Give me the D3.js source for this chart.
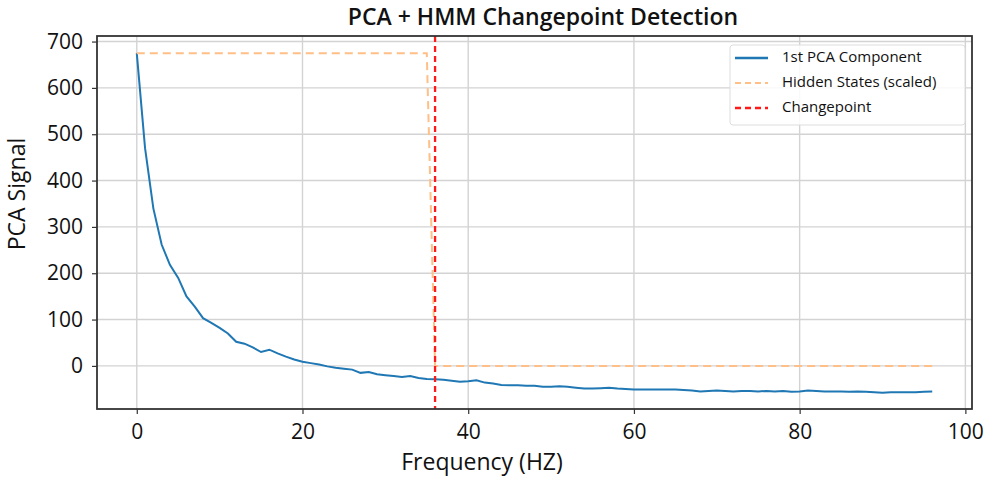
<html>
<head>
<script src="https://d3js.org/d3.v7.min.js"></script>
<title>PCA + HMM Changepoint Detection</title>
<style>
  body { margin: 0; padding: 0; background: #fff; }
  text { font-family: "Open Sans", "Noto Sans", sans-serif; fill: #111; }
</style>
</head>
<body>
<script>
// frequency bins (Hz)
var freq = d3.range(0, 97);
// 1st PCA component
var pca = [675, 470, 340, 262, 218, 190, 150, 128, 103, 93,
           82, 70, 52, 48, 40, 30, 35, 27, 20, 14,
           9, 6, 3, -1, -4, -6, -8, -15, -13, -18,
           -20, -22, -24, -22, -26, -28, -29, -30, -32, -34,
           -33, -31, -36, -38, -41, -42, -42, -43, -43, -45,
           -45, -44, -45, -47, -49, -49, -48, -47, -49, -50,
           -51, -51, -51, -51, -51, -51, -52, -53, -55, -54,
           -53, -54, -55, -54, -54, -55, -54, -55, -54, -56,
           -55, -53, -54, -55, -55, -55, -56, -55, -56, -57,
           -58, -57, -57, -57, -57, -56, -55];
// hidden states scaled to signal max
var hidden = freq.map(function(f) { return f <= 35 ? 675 : 0; });
var changepoint = 36;
var xTicks = [0, 20, 40, 60, 80, 100];
var yTicks = [0, 100, 200, 300, 400, 500, 600, 700];
var legendLabels = ["1st PCA Component", "Hidden States (scaled)", "Changepoint"];

var width = 994, height = 481;
var margin = {top: 36, right: 22, bottom: 72, left: 97};
var w = width - margin.left - margin.right,
    h = height - margin.top - margin.bottom;

var svg = d3.select("body").append("svg")
    .attr("width", width).attr("height", height);
var g = svg.append("g").attr("transform", "translate(" + margin.left + "," + margin.top + ")");

var x = d3.scaleLinear().domain([-4.8, 100.8]).range([0, w]);
var y = d3.scaleLinear().domain([-93, 712]).range([h, 0]);

// grid
g.append("g").selectAll("line").data(xTicks).enter().append("line")
  .attr("x1", function(d) { return x(d); }).attr("x2", function(d) { return x(d); })
  .attr("y1", 0).attr("y2", h)
  .attr("stroke", "#d3d3d3").attr("stroke-width", 1.4);
g.append("g").selectAll("line").data(yTicks).enter().append("line")
  .attr("y1", function(d) { return y(d); }).attr("y2", function(d) { return y(d); })
  .attr("x1", 0).attr("x2", w)
  .attr("stroke", "#d3d3d3").attr("stroke-width", 1.4);

var line = d3.line()
  .x(function(d, i) { return x(freq[i]); })
  .y(function(d) { return y(d); });

g.append("path").datum(pca)
  .attr("d", line).attr("fill", "none")
  .attr("stroke", "#1f77b4").attr("stroke-width", 2);

g.append("path").datum(hidden)
  .attr("d", line).attr("fill", "none")
  .attr("stroke", "#ffbf86").attr("stroke-width", 2)
  .attr("stroke-dasharray", "8,5");

g.append("line")
  .attr("x1", x(changepoint)).attr("x2", x(changepoint))
  .attr("y1", 0).attr("y2", h)
  .attr("stroke", "#ff1a1a").attr("stroke-width", 2.3)
  .attr("stroke-dasharray", "6,4");

// axes
var xAxis = g.append("g").attr("transform", "translate(0," + h + ")")
  .call(d3.axisBottom(x).tickValues(xTicks).tickSize(5).tickPadding(10));
var yAxis = g.append("g")
  .call(d3.axisLeft(y).tickValues(yTicks).tickSize(5).tickPadding(9));
[xAxis, yAxis].forEach(function(a) {
  a.select(".domain").remove();
  a.selectAll("line").attr("stroke", "#333").attr("stroke-width", 1.2);
  a.selectAll("text").style("font-size", "21px").attr("fill", "#111");
});

g.append("rect").attr("width", w).attr("height", h)
  .attr("fill", "none").attr("stroke", "#333").attr("stroke-width", 1.8);

// titles
svg.append("text").attr("x", 543).attr("y", 25)
  .attr("text-anchor", "middle").style("font-size", "23px").style("font-weight", 600)
  .text("PCA + HMM Changepoint Detection");
svg.append("text").attr("x", 482).attr("y", 470)
  .attr("text-anchor", "middle").style("font-size", "23px").style("font-weight", 500)
  .text("Frequency (HZ)");
svg.append("text").attr("transform", "translate(25,194) rotate(-90)")
  .attr("text-anchor", "middle").style("font-size", "23px").style("font-weight", 500)
  .text("PCA Signal");

// legend
var leg = svg.append("g").attr("transform", "translate(730,45)");
leg.append("rect").attr("width", 235).attr("height", 80).attr("rx", 3)
  .attr("fill", "#fff").attr("fill-opacity", 0.85).attr("stroke", "#ddd");
var styles = [
  {c: "#1f77b4", d: null, wd: 2.5},
  {c: "#ffbf86", d: "6,4", wd: 2},
  {c: "#ff1a1a", d: "6,4", wd: 2.5}
];
legendLabels.forEach(function(lab, i) {
  var yy = 13 + i * 25;
  leg.append("line").attr("x1", 5).attr("x2", 38).attr("y1", yy).attr("y2", yy)
    .attr("stroke", styles[i].c).attr("stroke-width", styles[i].wd)
    .attr("stroke-dasharray", styles[i].d);
  leg.append("text").attr("x", 52).attr("y", yy + 4).style("font-size", "15px").text(lab);
});
</script>
</body>
</html>
